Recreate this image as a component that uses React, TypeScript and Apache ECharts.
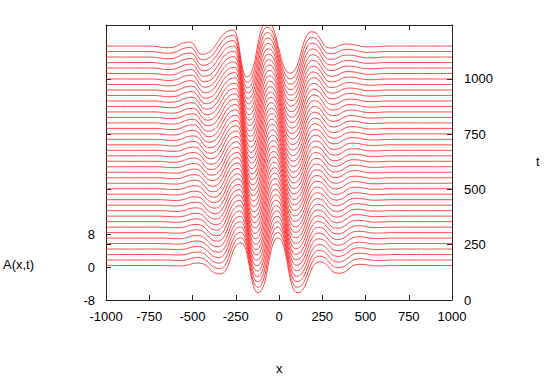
import React, { useEffect, useRef } from "react";
import * as echarts from "echarts";

// time values of the 41 drawn curves
const tValues: number[] = [
  0, 25, 50, 75, 100, 125, 150, 175, 200, 225, 250, 275, 300, 325, 350, 375, 400,
  425, 450, 475, 500, 525, 550, 575, 600, 625, 650, 675, 700, 725, 750, 775, 800,
  825, 850, 875, 900, 925, 950, 975, 1000,
];

// extrema of the wave read on the lowest curve (t = 0)
const extremaXBottom: number[] = [-570, -465, -340, -220, -120, -5, 105, 235, 345, 465, 570];
const extremaABottom: number[] = [-0.1, 0.6, -2.1, 5.5, -6.6, 6.7, -6.6, 0.9, -1.9, 0.3, -0.1];
// the same extrema read on the highest curve (t = 1000)
const extremaXTop: number[] = [-640, -515, -445, -265, -185, -70, 65, 190, 295, 390, 515];
const extremaATop: number[] = [-0.4, 1.0, -2.0, 3.9, -7.5, 5.9, -6.6, 3.5, -0.5, 0.5, -0.2];

const xTickLabels: number[] = [-1000, -750, -500, -250, 0, 250, 500, 750, 1000];
const aTickLabels: number[] = [-8, 0, 8];
const tTickLabels: number[] = [0, 250, 500, 750, 1000];

const FONT = "'Liberation Sans', Arial, Helvetica, sans-serif";
const AXIS_COLOR = "#222";

function buildCurve(t: number, baseOffset: number, offsetPerT: number): number[][] {
  const f = t / 1000;
  const base = baseOffset + t * offsetPerT;
  const pts: number[][] = [];
  const xs = extremaXBottom.map((xb, j) => xb + (extremaXTop[j] - xb) * f);
  const as = extremaABottom.map((ab, j) => ab + (extremaATop[j] - ab) * f);
  pts.push([-1000, base]);
  pts.push([xs[0] - 110, base]);
  xs.forEach((x, j) => pts.push([x, base + as[j]]));
  pts.push([xs[xs.length - 1] + 110, base]);
  pts.push([1000, base]);
  return pts;
}

const plain = (v: number) => String(v);

export default function App() {
  const ref = useRef<HTMLDivElement>(null);
  useEffect(() => {
    if (!ref.current) return;
    const chart = echarts.init(ref.current, null, { renderer: "svg" });
    const aMin = -8;
    const aMax = 58.67;
    const baseOffset = 0.36;
    const offsetPerT = 0.0532;
    const series: any[] = tValues.map((t) => ({
      type: "line",
      xAxisIndex: 0,
      yAxisIndex: 0,
      data: buildCurve(t, baseOffset, offsetPerT),
      smooth: 0.5,
      smoothMonotone: "x",
      showSymbol: false,
      symbol: "none",
      silent: true,
      lineStyle: { color: "#ff1a1a", width: 0.8 },
    }));
    const lineStyle = { color: AXIS_COLOR, width: 1 };
    const tickStyle = { show: true, inside: true, length: 5, lineStyle };
    const axisLine = { show: true, onZero: false, lineStyle };
    chart.setOption({
      animation: false,
      backgroundColor: "#ffffff",
      grid: { left: 106, right: 93, top: 25, bottom: 81, containLabel: false },
      xAxis: [
        {
          type: "value",
          position: "bottom",
          min: -1000,
          max: 1000,
          interval: 250,
          axisLine,
          axisTick: tickStyle,
          splitLine: { show: false },
          axisLabel: {
            color: "#000",
            fontSize: 13,
            fontFamily: FONT,
            margin: 10,
            formatter: plain,
            customValues: xTickLabels,
          },
        },
        {
          type: "value",
          position: "top",
          min: -1000,
          max: 1000,
          interval: 250,
          axisLine,
          axisTick: tickStyle,
          splitLine: { show: false },
          axisLabel: { show: false },
        },
      ],
      yAxis: [
        {
          type: "value",
          position: "left",
          min: aMin,
          max: aMax,
          interval: 8,
          axisLine,
          axisTick: { ...tickStyle, customValues: aTickLabels },
          splitLine: { show: false },
          axisLabel: {
            color: "#000",
            fontSize: 13,
            fontFamily: FONT,
            margin: 11,
            formatter: plain,
            customValues: aTickLabels,
          },
        },
        {
          type: "value",
          position: "right",
          min: 0,
          max: 1244,
          interval: 250,
          axisLine,
          axisTick: { ...tickStyle, customValues: tTickLabels },
          splitLine: { show: false },
          axisLabel: {
            color: "#000",
            fontSize: 13,
            fontFamily: FONT,
            margin: 12,
            formatter: plain,
            customValues: tTickLabels,
          },
        },
        {
          type: "value",
          position: "left",
          min: 0,
          max: 1244,
          interval: 250,
          axisLine: { show: false, onZero: false },
          axisTick: { ...tickStyle, customValues: tTickLabels },
          splitLine: { show: false },
          axisLabel: { show: false },
        },
      ],
      graphic: [
        {
          type: "text",
          left: 3,
          top: 258,
          style: { text: "A(x,t)", fill: "#000", font: `13px ${FONT}` },
        },
        {
          type: "text",
          left: 536,
          top: 155,
          style: { text: "t", fill: "#000", font: `13px ${FONT}` },
        },
        {
          type: "text",
          left: 276,
          top: 362,
          style: { text: "x", fill: "#000", font: `13px ${FONT}` },
        },
      ],
      series,
    });
    return () => chart.dispose();
  }, []);
  return (
    <div
      ref={ref}
      style={{ position: "fixed", left: 0, top: 0, width: 545, height: 381, background: "#fff" }}
    />
  );
}
